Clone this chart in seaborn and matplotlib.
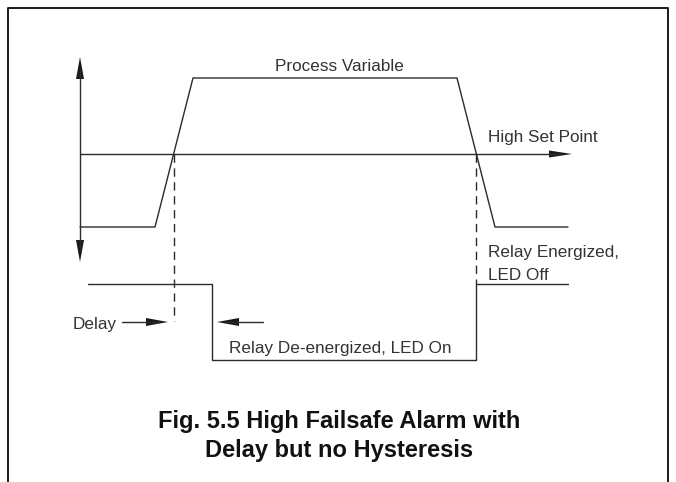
import matplotlib
matplotlib.use("Agg")
import matplotlib.pyplot as plt
import seaborn as sns
import pandas as pd

# Timing traces (time on the horizontal axis, level on the vertical axis; axis grows downward)
pv_time = [80, 155, 193, 457, 495, 568]
pv_level = [227, 227, 78, 78, 227, 227]
relay_time = [88, 212, 212, 476, 476, 568]
relay_level = [284, 284, 360, 360, 284, 284]
set_point = 154
crossing_times = [174, 476]
delay_end = 212

labels = {
    "pv": "Process Variable",
    "sp": "High Set Point",
    "delay": "Delay",
    "off": "Relay De-energized, LED On",
    "on1": "Relay Energized,",
    "on2": "LED Off",
}
caption = ["Fig. 5.5 High Failsafe Alarm with", "Delay but no Hysteresis"]

sns.set_theme(style="white")
plt.rcParams["font.family"] = ["Liberation Sans", "DejaVu Sans"]

W, H = 676, 482
fig = plt.figure(figsize=(W / 100, H / 100), dpi=100)
ax = fig.add_axes([0, 0, 1, 1])
ax.set_xlim(0, W)
ax.set_ylim(H, 0)
ax.axis("off")

LC = "#2b2b2b"
LW = 1.0

pv = pd.DataFrame({"t": pv_time, "v": pv_level})
relay = pd.DataFrame({"t": relay_time, "v": relay_level})
sns.lineplot(data=pv, x="t", y="v", sort=False, estimator=None, color=LC, lw=LW, ax=ax)
sns.lineplot(data=relay, x="t", y="v", sort=False, estimator=None, color=LC, lw=LW, ax=ax)


def head(tx, ty, dx, dy, length=22, width=8):
    """Filled triangular arrow head with its tip at (tx, ty) pointing along (dx, dy)."""
    bx, by = tx - dx * length, ty - dy * length
    px, py = -dy * width / 2, dx * width / 2
    ax.fill([tx, bx + px, bx - px], [ty, by + py, by - py], color="#1a1a1a", lw=0)


# vertical axis with arrows at both ends
ax.plot([80, 80], [70, 250], color=LC, lw=LW)
head(80, 57, 0, -1)
head(80, 262, 0, 1)

# set point line with arrow
ax.plot([80, 560], [set_point, set_point], color=LC, lw=LW)
head(572, set_point, 1, 0, length=23, width=7)

# dashed drop lines from the set point crossings
ax.plot([crossing_times[0]] * 2, [set_point, 321], color=LC, lw=LW, ls=(0, (6, 4)))
ax.plot([crossing_times[1]] * 2, [set_point, relay_level[-1]], color=LC, lw=LW, ls=(0, (6, 4)))

# delay arrows
ax.plot([122, 160], [322, 322], color=LC, lw=LW)
head(crossing_times[0] - 6, 322, 1, 0)
ax.plot([225, 263], [322, 322], color=LC, lw=LW)
head(delay_end + 5, 322, -1, 0)

# frame (open at the bottom)
ax.plot([8, 8, 668, 668], [H, 7.5, 7.5, H], color="#1a1a1a", lw=1.4)

tk = dict(fontsize=12.3, color="#333333", va="baseline", ha="left")
ax.text(275, 71, labels["pv"], **tk)
ax.text(488, 142, labels["sp"], **tk)
ax.text(73, 328.5, labels["delay"], **tk)
ax.text(229, 353, labels["off"], **tk)
ax.text(488, 256.5, labels["on1"], **tk)
ax.text(488, 280, labels["on2"], **tk)

ck = dict(fontsize=17, color="#111111", va="baseline", ha="center", fontweight="bold")
ax.text(339, 428, caption[0], **ck)
ax.text(339, 456.5, caption[1], **ck)

fig.savefig("out.png", dpi=100)
